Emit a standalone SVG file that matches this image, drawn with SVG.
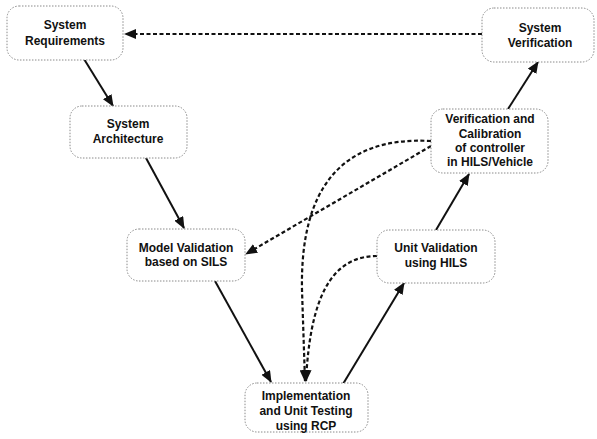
<svg xmlns="http://www.w3.org/2000/svg" width="597" height="439" viewBox="0 0 597 439">
<style>
.box{fill:#fff;stroke:#8a8a8a;stroke-width:1;stroke-dasharray:1.5,1.5}
.t{font-family:"Liberation Sans",Arial,sans-serif;font-weight:bold;font-size:12px;fill:#111;text-anchor:middle}
.s{fill:none;stroke:#111;stroke-width:2}
.d{fill:none;stroke:#111;stroke-width:2.2;stroke-dasharray:4,2.5}
</style>
<defs>
<marker id="ah" viewBox="0 0 12 10" refX="11" refY="5" markerWidth="12" markerHeight="10" markerUnits="userSpaceOnUse" orient="auto">
<path d="M0,0 L12,5 L0,10 Z" fill="#111"/>
</marker>
</defs>
<rect width="597" height="439" fill="#fff"/>
<g id="connectors">
<line class="s" x1="84" y1="59" x2="113" y2="106" marker-end="url(#ah)"/>
<line class="s" x1="146" y1="158" x2="184" y2="228" marker-end="url(#ah)"/>
<line class="s" x1="215" y1="281" x2="271" y2="382" marker-end="url(#ah)"/>
<line class="s" x1="343" y1="384" x2="404" y2="283" marker-end="url(#ah)"/>
<line class="s" x1="436" y1="230" x2="469" y2="174" marker-end="url(#ah)"/>
<line class="s" x1="508" y1="109" x2="538" y2="62" marker-end="url(#ah)"/>
<line class="d" x1="482" y1="34" x2="125" y2="34" marker-end="url(#ah)"/>
<line class="d" x1="431" y1="146" x2="246" y2="254" marker-end="url(#ah)"/>
<path class="d" d="M431,141 C340,136 300,190 302,290 L305,381" marker-end="url(#ah)"/>
<path class="d" d="M377,256 C330,256 310,300 306,381" marker-end="url(#ah)"/>
</g>
<g id="sysreq">
<rect class="box" x="7" y="6" width="116" height="54" rx="12"/>
<text class="t" x="65" y="29">System</text>
<text class="t" x="65" y="45">Requirements</text>
</g>
<g id="sysarch">
<rect class="box" x="70" y="106" width="117" height="52" rx="12"/>
<text class="t" x="128" y="128">System</text>
<text class="t" x="128" y="143">Architecture</text>
</g>
<g id="modelval">
<rect class="box" x="127" y="229" width="118" height="52" rx="12"/>
<text class="t" x="186" y="252">Model Validation</text>
<text class="t" x="186" y="266">based on SILS</text>
</g>
<g id="impl">
<rect class="box" x="245" y="383" width="123" height="49" rx="12"/>
<text class="t" x="306" y="400">Implementation</text>
<text class="t" x="306" y="415">and Unit Testing</text>
<text class="t" x="306" y="430">using RCP</text>
</g>
<g id="unitval">
<rect class="box" x="377" y="230" width="118" height="53" rx="12"/>
<text class="t" x="436" y="252">Unit Validation</text>
<text class="t" x="436" y="267">using HILS</text>
</g>
<g id="vercal">
<rect class="box" x="431" y="109" width="117" height="64" rx="12"/>
<text class="t" x="490" y="123">Verification and</text>
<text class="t" x="490" y="138">Calibration</text>
<text class="t" x="490" y="152">of controller</text>
<text class="t" x="490" y="166">in HILS/Vehicle</text>
</g>
<g id="sysver">
<rect class="box" x="482" y="8" width="112" height="54" rx="12"/>
<text class="t" x="540" y="32">System</text>
<text class="t" x="540" y="47">Verification</text>
</g>
</svg>
